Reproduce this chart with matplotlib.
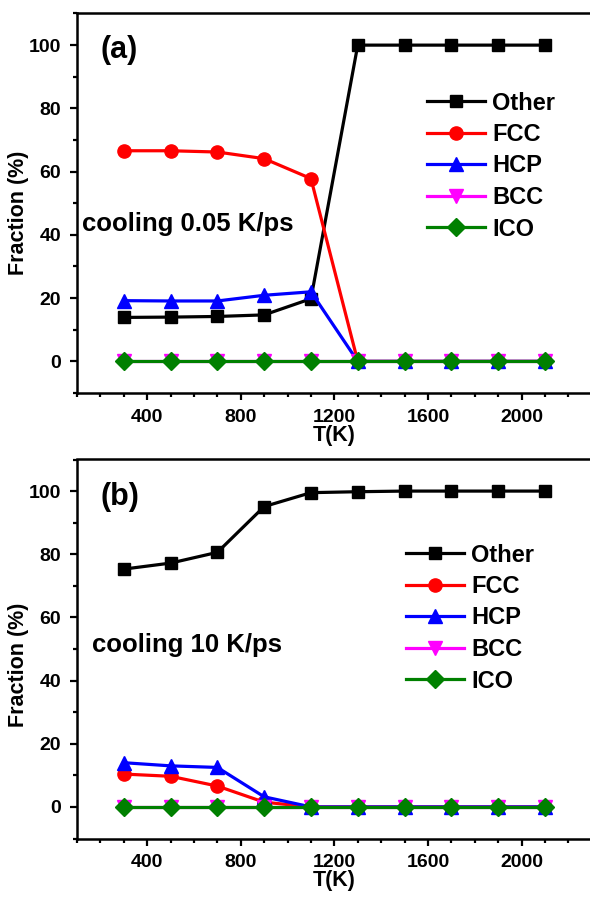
import matplotlib
matplotlib.use("Agg")
import matplotlib.pyplot as plt
from matplotlib.ticker import MultipleLocator

plt.rcParams['font.family'] = ['Liberation Sans', 'DejaVu Sans']
plt.rcParams['font.weight'] = 'bold'

T = [300, 500, 700, 900, 1100, 1300, 1500, 1700, 1900, 2100]

# panel (a): cooling 0.05 K/ps
a_other = [13.9, 14.0, 14.2, 14.7, 19.8, 100, 100, 100, 100, 100]
a_fcc = [66.6, 66.6, 66.2, 64.1, 57.8, 0, 0, 0, 0, 0]
a_hcp = [19.2, 19.1, 19.1, 20.9, 22.0, 0, 0, 0, 0, 0]
a_bcc = [0, 0, 0, 0, 0, 0, 0, 0, 0, 0]
a_ico = [0, 0, 0, 0, 0, 0, 0, 0, 0, 0]

# panel (b): cooling 10 K/ps
b_other = [75.3, 77.2, 80.6, 95.1, 99.5, 99.8, 100, 100, 100, 100]
b_fcc = [10.4, 9.7, 6.6, 1.5, 0, 0, 0, 0, 0, 0]
b_hcp = [14.0, 13.0, 12.5, 3.2, 0, 0, 0, 0, 0, 0]
b_bcc = [0, 0, 0, 0, 0, 0, 0, 0, 0, 0]
b_ico = [0, 0, 0, 0, 0, 0, 0, 0, 0, 0]

labels = ['Other', 'FCC', 'HCP', 'BCC', 'ICO']
colors = ['#000000', '#FF0000', '#0000FF', '#FF00FF', '#008000']
markers = ['s', 'o', '^', 'v', 'D']
msizes = [9, 9.5, 10, 10, 9.5]

panels = [
    ('(a)', 'cooling 0.05 K/ps', [a_other, a_fcc, a_hcp, a_bcc, a_ico]),
    ('(b)', 'cooling 10 K/ps', [b_other, b_fcc, b_hcp, b_bcc, b_ico]),
]

W, H = 590, 897
fig = plt.figure(figsize=(W / 100, H / 100), dpi=100)

# axes boxes in pixels: left, right, top, bottom
boxes = [(77, 591.7, 13.5, 393), (77, 591.7, 459.5, 838.5)]
legend_pos = [(427, 91.5), (406, 543.5)]
panel_lbl_pos = [(100, 50), (100, 497)]
cool_pos = [(82, 231.5), (92, 652)]
ylabel_y = [0.4756, 0.458]

for i, (plabel, ctext, series) in enumerate(panels):
    l, r, t, b = boxes[i]
    ax = fig.add_axes([l / W, 1 - b / H, (r - l) / W, (b - t) / H])
    for ys, lab, c, m, ms in zip(series, labels, colors, markers, msizes):
        ax.plot(T, ys, color=c, marker=m, markersize=ms, linewidth=2.3,
                label=lab, markeredgecolor=c)
    ax.set_xlim(100, 2300)
    ax.set_ylim(-10, 110)
    ax.xaxis.set_major_locator(MultipleLocator(400))
    ax.xaxis.set_minor_locator(MultipleLocator(100))
    ax.yaxis.set_major_locator(MultipleLocator(20))
    ax.yaxis.set_minor_locator(MultipleLocator(10))
    ax.tick_params(which='both', direction='out', top=False, right=False,
                   width=1.6)
    ax.tick_params(which='major', length=5, labelsize=14)
    ax.tick_params(axis='x', which='major', pad=6.5)
    ax.tick_params(axis='y', which='major', pad=6.5)
    ax.tick_params(which='minor', length=3)
    for sp in ax.spines.values():
        sp.set_linewidth(1.8)
    for lab in ax.get_xticklabels() + ax.get_yticklabels():
        lab.set_fontweight('bold')
    ax.set_xlabel('T(K)', fontsize=15.5, fontweight='bold', labelpad=-1)
    ax.set_ylabel('Fraction (%)', fontsize=15.5, fontweight='bold', labelpad=0)
    ax.yaxis.set_label_coords(-0.093, ylabel_y[i])

    px, py = panel_lbl_pos[i]
    ax.text((px - l) / (r - l), (b - py) / (b - t), plabel, fontsize=22,
            fontweight='bold', ha='left', va='center', transform=ax.transAxes)
    cx, cy = cool_pos[i]
    ax.text((cx - l) / (r - l), (b - cy) / (b - t), ctext, fontsize=18.5,
            fontweight='bold', ha='left', va='baseline', transform=ax.transAxes)

    lx, ly = legend_pos[i]
    ax.legend(loc='upper left', bbox_to_anchor=(lx / W, 1 - ly / H),
              bbox_transform=fig.transFigure, frameon=False,
              prop={'size': 17, 'weight': 'bold'}, borderpad=0,
              borderaxespad=0, handlelength=2.45, handletextpad=0.3,
              labelspacing=0.36)

fig.savefig('out.png', dpi=100)
